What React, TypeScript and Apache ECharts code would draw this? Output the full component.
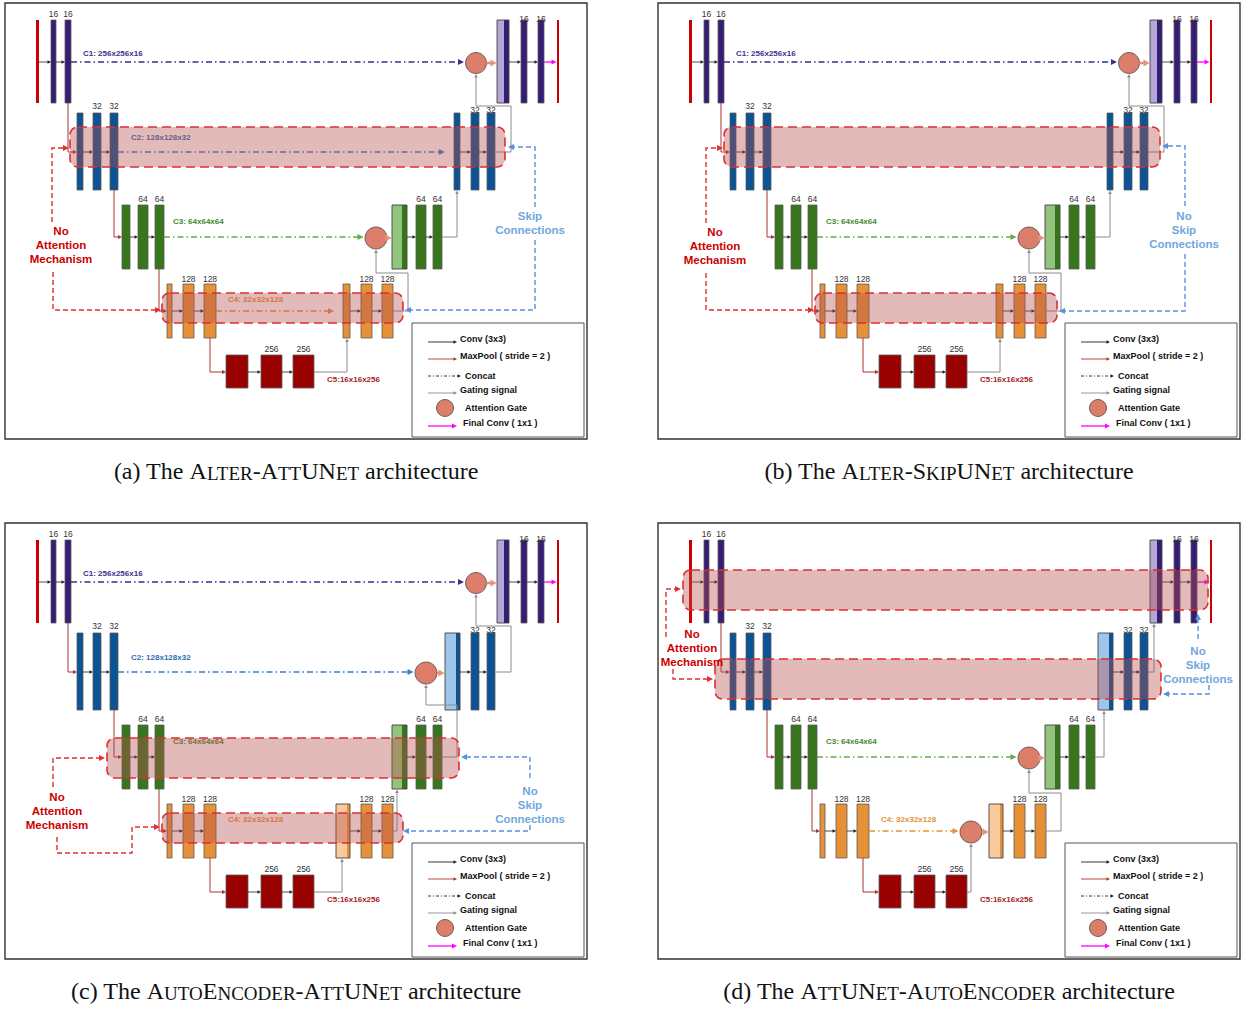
import React, { useEffect, useRef } from "react";
import * as echarts from "echarts";

const CANVAS_W = 1251;
const CANVAS_H = 1009;
const SANS = "'Liberation Sans', Arial, sans-serif";
const SERIF = "'Liberation Serif', 'Times New Roman', serif";

// ---- network description ----
const levelNames = ["C1", "C2", "C3", "C4", "C5"];
const featureDims = ["256x256x16", "128x128x32", "64x64x64", "32x32x128", "16x16x256"];
const channels = [16, 32, 64, 128, 256];

// ---- the four variants ----
const panelLetters = ["a", "b", "c", "d"];
// lower-case runs are printed as small capitals
const variantNames = ["Alter-AttUNet", "Alter-SkipUNet", "AutoEncoder-AttUNet", "AttUNet-AutoEncoder"];
// skip path of levels C1..C4: "att" = attention gate, "skip" = plain concat, "none" = removed
const skipModes = [
  ["att", "skip", "att", "skip"],
  ["att", "none", "att", "none"],
  ["att", "att", "none", "none"],
  ["none", "none", "att", "att"],
];
// whether the "Cn: dims" tag of a level is printed
const showDims = [
  [1, 1, 1, 1],
  [1, 0, 1, 0],
  [1, 1, 1, 1],
  [0, 0, 1, 1],
];
// decoder input drawn as a concatenation block (1) or as a thin bar (0)
const concatBlocks = [
  [1, 0, 1, 0],
  [1, 0, 1, 0],
  [1, 1, 1, 1],
  [1, 1, 1, 1],
];
const attentionNote = ["No", "Attention", "Mechanism"];
const skipNotes = [
  ["Skip", "Connections"],
  ["No", "Skip", "Connections"],
  ["No", "Skip", "Connections"],
  ["No", "Skip", "Connections"],
];
const legendItems = ["Conv (3x3)", "MaxPool ( stride = 2 )", "Concat", "Gating signal", "Attention Gate", "Final Conv ( 1x1 )"];

// ---- layout (panel-local pixels) ----
const panelOrigins = [
  [0, 0],
  [653, 0],
  [0, 520],
  [653, 520],
];
const LEVELS: any[] = [
  { top: 20, bottom: 103, ay: 62, enc: [[36, 39], [51, 56], [65, 71]], dec: [[521, 527], [538, 544]],
    concat: [497, 504, 509], thin: [503, 509], gate: [476, 63, 10.5], gateUp: [511, 106], upX: 501, upXThin: 511,
    encLab: 14, decLab: 19, pool: 68 },
  { top: 113, bottom: 190, ay: 152, enc: [[77, 83], [93, 101], [110, 118]], dec: [[471, 479], [487, 495]],
    concat: [445, 456, 460], thin: [454, 460], gate: [426, 153, 11], gateUp: [457, 185], upX: 451, upXThin: 457,
    encLab: 106, decLab: 110, pool: 114 },
  { top: 205, bottom: 269, ay: 237, enc: [[122, 130], [138, 148], [155, 164]], dec: [[416, 426], [433, 442]],
    concat: [392, 402, 407], thin: [401, 407], gate: [376, 238, 11], gateUp: [408, 273], upX: 397, upXThin: 404,
    encLab: 199, decLab: 199, pool: 159 },
  { top: 284, bottom: 338, ay: 311, enc: [[167, 172], [183, 194], [204, 216]], dec: [[361, 372], [382, 393]],
    concat: [336, 347, 350], thin: [343, 350], gate: [318, 312, 11], gateUp: [318, 330], upX: 342, upXThin: 347,
    encLab: 279, decLab: 279, pool: 210 },
  { top: 355, bottom: 388, ay: 372, enc: [[226, 248], [261, 282], [293, 314]], encLab: 349 },
];
const OUTPUT_BAR = [557, 559];
const DIM_POS = [[83, 53], [131, 137], [173, 221], [228, 299], [327, 379]];
const BANDS = [
  [[70, 127, 505, 167], [162, 293, 403, 323]],
  [[71, 127, 507, 167], [162, 293, 404, 323]],
  [[107, 218, 459, 258], [162, 293, 403, 323]],
  [[30, 50, 555, 90], [62, 139, 508, 179]],
];
const NOTE_LAYOUT: any[] = [
  { att: [61, 231], attLinks: [[[52, 222], [52, 148], [69, 148]], [[53, 272], [53, 310], [161, 310]]],
    skip: [530, 216], skipLinks: [[[535, 207], [535, 147], [508, 147]], [[535, 240], [535, 310], [405, 310]]] },
  { att: [62, 232], attLinks: [[[53, 223], [53, 148], [70, 148]], [[53, 273], [53, 310], [161, 310]]],
    skip: [531, 216], skipLinks: [[[532, 206], [532, 146], [509, 146]], [[532, 254], [532, 311], [406, 311]]] },
  { att: [57, 277], attLinks: [[[53, 267], [53, 238], [105, 238]], [[57, 317], [57, 333], [132, 333], [132, 307], [160, 307]]],
    skip: [530, 271], skipLinks: [[[530, 258], [530, 237], [461, 237]], [[530, 305], [530, 311], [403, 311]]] },
  { att: [39, 114], attLinks: [[[13, 117], [13, 69], [28, 69]], [[20, 149], [20, 159], [60, 159]]],
    skip: [545, 131], skipLinks: [[[545, 119], [545, 94]], [[556, 165], [556, 174], [510, 174]]] },
];
const FRAME = [5, 3, 587, 439];
const LEGEND_BOX = [412, 323, 584, 437];
const LEGEND_ROWS = [
  { y: 342, ty: 339, tx: 460 },
  { y: 359, ty: 356, tx: 460 },
  { y: 376, ty: 376, tx: 465 },
  { y: 393, ty: 390, tx: 460 },
  { y: 408, ty: 408, tx: 465 },
  { y: 426, ty: 423, tx: 463 },
];
const CAPTION_POS = [296, 471];

// ---- colours ----
const MAIN = ["#351c75", "#0b5394", "#38761d", "#e69138", "#990000"];
const LIGHT = ["#b4a7d6", "#9fc5e8", "#93c47d", "#f9cb9c"];
const DIM_TEXT = ["#3f2e91", "#2f6db3", "#3f8a2b", "#e69138", "#a61c1c"];
const DIM_LINE = ["#3f2e91", "#3d7cc9", "#6aa84f", "#e69138"];
const INPUT_RED = "#cc0000";
const BAR_EDGE = "#5a5a5a";
const BLACK = "#222222";
const POOL = "#a83232";
const GRAY = "#8c8c8c";
const MAGENTA = "#ff00ff";
const GATE_FILL = "#dd7e6b";
const GATE_ARROW = "#e8917d";
const BAND_FILL = "rgba(183,77,77,0.39)";
const BAND_EDGE = "#dc2f2f";
const NOTE_RED = "#cc0000";
const NOTE_RED_LINE = "#e03030";
const NOTE_BLUE = "#6fa8dc";
const NOTE_BLUE_LINE = "#5b8fe0";
const DASH_DOT = [6, 3, 1.5, 3];

function captionText(letter: string, name: string) {
  let s = `{n|(${letter}) The }`;
  const runs = name.match(/[a-z]+|[^a-z]+/g) || [];
  for (const r of runs) s += /[a-z]/.test(r[0]) ? `{s|${r.toUpperCase()}}` : `{n|${r}}`;
  return s + "{n| architecture}";
}

function buildPanel(pi: number, P: (x: number, y: number) => number[]) {
  const els: any[] = [];
  const pts = (a: number[][]) => a.map(([x, y]) => P(x, y));
  const rect = (x0: number, y0: number, x1: number, y1: number, fill: any, stroke: any = null, lw = 0, r = 0, dash: any = null) => {
    const a = P(x0, y0);
    const b = P(x1, y1);
    els.push({ type: "rect", shape: { x: a[0], y: a[1], width: b[0] - a[0], height: b[1] - a[1], r }, style: { fill, stroke, lineWidth: lw, lineDash: dash } });
  };
  const poly = (a: number[][], stroke: string, lw: number, dash: any = null) => {
    els.push({ type: "polyline", shape: { points: pts(a) }, style: { stroke, lineWidth: lw, fill: null, lineDash: dash } });
  };
  const head = (x: number, y: number, dx: number, dy: number, color: string, len: number, half: number) => {
    const bx = x - dx * len;
    const by = y - dy * len;
    els.push({ type: "polygon", shape: { points: pts([[x, y], [bx - dy * half, by + dx * half], [bx + dy * half, by - dx * half]]) }, style: { fill: color } });
  };
  const arrow = (a: number[][], color: string, lw: number, dash: any = null, len = 4.5, half = 2.2) => {
    const n = a.length;
    const [x1, y1] = a[n - 1];
    let k = n - 2;
    while (k > 0 && a[k][0] === x1 && a[k][1] === y1) k--;
    const [x0, y0] = a[k];
    const d = Math.hypot(x1 - x0, y1 - y0) || 1;
    const dx = (x1 - x0) / d;
    const dy = (y1 - y0) / d;
    poly(a.slice(0, n - 1).concat([[x1 - dx * len * 0.7, y1 - dy * len * 0.7]]), color, lw, dash);
    head(x1, y1, dx, dy, color, len, half);
  };
  const circle = (cx: number, cy: number, r: number) => {
    const c = P(cx, cy);
    els.push({ type: "circle", shape: { cx: c[0], cy: c[1], r }, style: { fill: GATE_FILL, stroke: "#4a4a4a", lineWidth: 0.8 } });
  };
  const text = (x: number, y: number, str: string, fill: string, size: number, weight = "normal", align = "center", family = SANS) => {
    const p = P(x, y);
    els.push({ type: "text", x: p[0], y: p[1], style: { text: str, fill, fontSize: size, fontWeight: weight, fontFamily: family, align, verticalAlign: "middle" } });
  };

  const modes = skipModes[pi];

  // panel frame
  rect(FRAME[0], FRAME[1], FRAME[2], FRAME[3], "#ffffff", "#333333", 1.4);

  // bars of encoder and decoder
  for (let l = 0; l < 5; l++) {
    const L = LEVELS[l];
    L.enc.forEach(([x0, x1]: number[], i: number) => {
      if (l === 0 && i === 0) rect(x0, L.top, x1, L.bottom, INPUT_RED);
      else rect(x0, L.top, x1, L.bottom, MAIN[l], BAR_EDGE, 0.8);
    });
    if (l === 4) continue;
    if (concatBlocks[pi][l]) {
      const [a, m, b] = L.concat;
      rect(a, L.top, m, L.bottom, LIGHT[l]);
      rect(m, L.top, b, L.bottom, MAIN[l]);
      rect(a, L.top, b, L.bottom, null, "#444444", 0.9);
    } else {
      rect(L.thin[0], L.top, L.thin[1], L.bottom, MAIN[l], BAR_EDGE, 0.8);
    }
    L.dec.forEach(([x0, x1]: number[]) => rect(x0, L.top, x1, L.bottom, MAIN[l], BAR_EDGE, 0.8));
    if (l === 0) rect(OUTPUT_BAR[0], L.top, OUTPUT_BAR[1], L.bottom, INPUT_RED);
  }

  // max-pooling links between encoder levels
  for (let l = 0; l < 4; l++) {
    const L = LEVELS[l];
    const N = LEVELS[l + 1];
    arrow([[L.pool, L.bottom], [L.pool, N.ay], [N.enc[0][0], N.ay]], POOL, 1, null, 4, 2);
  }

  // up-sampling and gating links
  for (let l = 0; l < 4; l++) {
    const L = LEVELS[l];
    const S = LEVELS[l + 1];
    const sx = l + 1 < 4 ? S.dec[1][1] : S.enc[2][1];
    const sy = S.ay;
    if (modes[l] === "att") {
      const [gx, gy] = L.gateUp;
      const [cx, cy, r] = L.gate;
      arrow([[sx, sy], [gx, sy], [gx, gy], [cx, gy], [cx, cy + r + 0.5]], GRAY, 1, null, 3.5, 1.8);
    } else {
      const ux = concatBlocks[pi][l] ? L.upX : L.upXThin;
      arrow([[sx, sy], [ux, sy], [ux, L.bottom + 0.5]], GRAY, 1, null, 3.5, 1.8);
    }
  }

  // convolution arrows inside each level
  for (let l = 0; l < 5; l++) {
    const L = LEVELS[l];
    for (let i = 0; i < 2; i++) arrow([[L.enc[i][1], L.ay], [L.enc[i + 1][0], L.ay]], BLACK, 0.8, null, 3.5, 1.8);
    if (l === 4) continue;
    const firstEnd = concatBlocks[pi][l] ? L.concat[2] : L.thin[1];
    arrow([[firstEnd, L.ay], [L.dec[0][0], L.ay]], BLACK, 0.8, null, 3.5, 1.8);
    arrow([[L.dec[0][1], L.ay], [L.dec[1][0], L.ay]], BLACK, 0.8, null, 3.5, 1.8);
    if (l === 0) arrow([[L.dec[1][1], L.ay], [OUTPUT_BAR[0] - 0.5, L.ay]], MAGENTA, 1.3, null, 5, 2.6);
  }

  // skip connections and attention gates
  for (let l = 0; l < 4; l++) {
    const L = LEVELS[l];
    const mode = modes[l];
    if (mode === "none") continue;
    const start = L.enc[2][1];
    if (mode === "att") {
      const [cx, cy, r] = L.gate;
      arrow([[start, L.ay], [cx - r - 1.5, L.ay]], DIM_LINE[l], 1.3, DASH_DOT, 6, 3);
      circle(cx, cy, r);
      arrow([[cx + r, cy], [L.concat[0] - 0.5, cy]], GATE_ARROW, 2.6, null, 6, 3.6);
    } else {
      const end = (concatBlocks[pi][l] ? L.concat[0] : L.thin[0]) - 9;
      arrow([[start, L.ay], [end, L.ay]], DIM_LINE[l], 1.3, DASH_DOT, 6, 3);
    }
  }

  // channel counts and feature-map tags
  for (let l = 0; l < 5; l++) {
    const L = LEVELS[l];
    const lab = String(channels[l]);
    for (const i of [1, 2]) text((L.enc[i][0] + L.enc[i][1]) / 2, L.encLab, lab, "#333333", 8.5);
    if (l < 4) for (const b of L.dec) text((b[0] + b[1]) / 2, L.decLab, lab, "#333333", 8.5);
    const show = l === 4 || showDims[pi][l];
    if (show) {
      const sep = l === 4 ? ":" : ": ";
      text(DIM_POS[l][0], DIM_POS[l][1], `${levelNames[l]}${sep}${featureDims[l]}`, DIM_TEXT[l], 8, "bold", "left");
    }
  }

  // highlighted levels
  for (const [x0, y0, x1, y1] of BANDS[pi]) rect(x0, y0, x1, y1, BAND_FILL, BAND_EDGE, 1.6, 8, [9, 5]);

  // notes
  const note = NOTE_LAYOUT[pi];
  attentionNote.forEach((s, i) => text(note.att[0], note.att[1] + 14 * i, s, NOTE_RED, 11.5, "bold"));
  for (const link of note.attLinks) arrow(link, NOTE_RED_LINE, 1.4, [5, 3], 6, 3);
  skipNotes[pi].forEach((s, i) => text(note.skip[0], note.skip[1] + 14 * i, s, NOTE_BLUE, 11.5, "bold"));
  for (const link of note.skipLinks) arrow(link, NOTE_BLUE_LINE, 1.4, [5, 3], 6, 3);

  // legend
  rect(LEGEND_BOX[0], LEGEND_BOX[1], LEGEND_BOX[2], LEGEND_BOX[3], "#ffffff", "#555555", 1);
  const R = LEGEND_ROWS;
  arrow([[428, R[0].y], [457, R[0].y]], BLACK, 0.9, null, 3.5, 1.8);
  arrow([[428, R[1].y], [457, R[1].y]], POOL, 0.9, null, 3.5, 1.8);
  arrow([[428, R[2].y], [461, R[2].y]], BLACK, 0.9, [3, 2, 1, 2], 3.5, 1.8);
  arrow([[428, R[3].y], [457, R[3].y]], GRAY, 0.9, null, 3.5, 1.8);
  circle(445, R[4].y, 8.5);
  arrow([[428, R[5].y], [457, R[5].y]], MAGENTA, 1.3, null, 5, 2.6);
  legendItems.forEach((s, i) => text(R[i].tx, R[i].ty, s, "#111111", 9, "bold", "left"));

  // caption
  const cp = P(CAPTION_POS[0], CAPTION_POS[1]);
  els.push({
    type: "text",
    x: cp[0],
    y: cp[1],
    style: {
      text: captionText(panelLetters[pi], variantNames[pi]),
      align: "center",
      verticalAlign: "middle",
      rich: {
        n: { fontSize: 24, lineHeight: 24, fontFamily: SERIF, fill: "#111111", verticalAlign: "bottom" },
        s: { fontSize: 19, lineHeight: 19, fontFamily: SERIF, fill: "#111111", verticalAlign: "bottom" },
      },
    },
  });

  return els;
}

function buildOption(): any {
  return {
    animation: false,
    backgroundColor: "#ffffff",
    grid: { left: 0, right: 0, top: 0, bottom: 0 },
    xAxis: { type: "value", min: 0, max: CANVAS_W, show: false },
    yAxis: { type: "value", min: 0, max: CANVAS_H, inverse: true, show: false },
    series: [
      {
        type: "custom",
        silent: true,
        clip: false,
        data: panelOrigins,
        renderItem: (params: any, api: any) => {
          const ox = api.value(0);
          const oy = api.value(1);
          const P = (x: number, y: number) => api.coord([ox + x, oy + y]);
          return { type: "group", children: buildPanel(params.dataIndex, P) };
        },
      },
    ],
  };
}

export default function App() {
  const ref = useRef<HTMLDivElement>(null);
  useEffect(() => {
    const chart = echarts.init(ref.current!, undefined, { renderer: "svg", width: CANVAS_W, height: CANVAS_H });
    chart.setOption(buildOption());
    return () => chart.dispose();
  }, []);
  return (
    <div
      ref={ref}
      style={{ position: "fixed", left: 0, top: 0, width: CANVAS_W, height: CANVAS_H, background: "#ffffff" }}
    />
  );
}
